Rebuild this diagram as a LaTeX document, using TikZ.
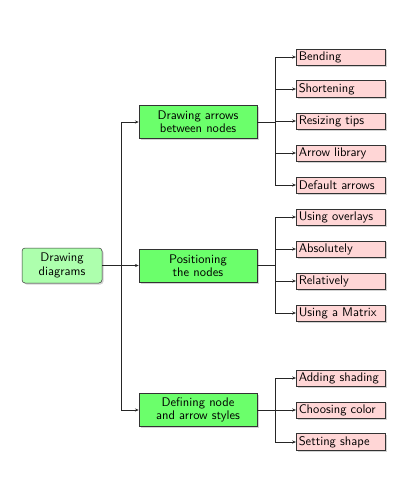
\documentclass[tikz,border=0pt]{standalone}
\usetikzlibrary{shadows,arrows.meta}
\tikzset{
	boxshadow/.style={drop shadow={shadow xshift=1.2pt, shadow yshift=-1.2pt, opacity=0.35}},
	rootbox/.style={draw=black!80, rounded corners=2.5pt, fill=green!32, boxshadow, align=center,
		minimum width=64pt, minimum height=28pt, inner sep=2pt, font=\sffamily\fontsize{10}{10.6}\selectfont},
	topicbox/.style={draw=black!80, fill=green!58, boxshadow, align=center,
		minimum width=94.4pt, minimum height=26.6pt, inner sep=2pt, font=\sffamily\fontsize{10}{10.6}\selectfont},
	leafbox/.style={draw=black!80, fill=red!16, boxshadow, align=left, anchor=west,
		text width=67pt, minimum height=13pt, inner sep=2pt, font=\sffamily\fontsize{10}{11}\selectfont},
	link/.style={draw=black!85, line width=0.5pt},
	tolink/.style={link, -{Stealth[length=3pt,width=2.4pt]}}
}

\begin{document}
\begin{tikzpicture}[x=0.8pt, y=-0.8pt]
		%%%%% START %%%%%
		\useasboundingbox (0, 0) rectangle (414, 490);
		
		\node[rootbox] (diagrams) at (62, 265.5) {Drawing\\diagrams};
		
		\node[topicbox] (arrows) at (198, 122) {Drawing arrows\\between nodes};
		\node[topicbox] (positioning) at (198, 265.5) {Positioning\\the nodes};
		\node[topicbox] (styles) at (198, 410) {Defining node\\and arrow styles};
		
		\node[leafbox] (bending) at (296, 57) {Bending};
		\node[leafbox] (shortening) at (296, 89) {Shortening};
		\node[leafbox] (resizing) at (296, 121) {Resizing tips};
		\node[leafbox] (library) at (296, 153) {Arrow library};
		\node[leafbox] (default) at (296, 185) {Default arrows};
		
		\node[leafbox] (overlays) at (296, 217) {Using overlays};
		\node[leafbox] (absolutely) at (296, 249) {Absolutely};
		\node[leafbox] (relatively) at (296, 281) {Relatively};
		\node[leafbox] (matrix) at (296, 313) {Using a Matrix};
		
		\node[leafbox] (shading) at (296, 378) {Adding shading};
		\node[leafbox] (color) at (296, 410) {Choosing color};
		\node[leafbox] (shape) at (296, 442) {Setting shape};
		
		\coordinate (fork) at (121, 265.5);
		\coordinate (forkA) at (275, 122);
		\coordinate (forkB) at (275, 265.5);
		\coordinate (forkC) at (275, 410);
		
		\draw[link] (diagrams.east) -- (fork);
		\draw[tolink] (fork) |- (arrows.west);
		\draw[tolink] (fork) -- (positioning.west);
		\draw[tolink] (fork) |- (styles.west);
		
		\draw[link] (arrows.east) -- (forkA);
		\draw[tolink] (forkA) |- (bending.west);
		\draw[tolink] (forkA) |- (shortening.west);
		\draw[tolink] (forkA) |- (resizing.west);
		\draw[tolink] (forkA) |- (library.west);
		\draw[tolink] (forkA) |- (default.west);
		
		\draw[link] (positioning.east) -- (forkB);
		\draw[tolink] (forkB) |- (overlays.west);
		\draw[tolink] (forkB) |- (absolutely.west);
		\draw[tolink] (forkB) |- (relatively.west);
		\draw[tolink] (forkB) |- (matrix.west);
		
		\draw[link] (styles.east) -- (forkC);
		\draw[tolink] (forkC) |- (shading.west);
		\draw[tolink] (forkC) |- (color.west);
		\draw[tolink] (forkC) |- (shape.west);
		%%%%% END %%%%%
	\end{tikzpicture}
\end{document}
